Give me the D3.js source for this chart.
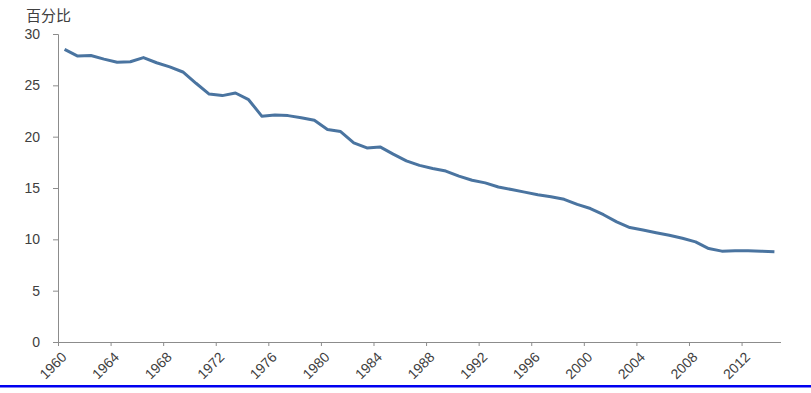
<!DOCTYPE html>
<html>
<head>
<meta charset="utf-8">
<script src="https://cdn.jsdelivr.net/npm/d3@7"></script>
<style>
body { margin: 0; background: #fff; }
text { font-family: "Liberation Sans", Arial, "Noto Sans CJK SC", sans-serif; fill: #404040; }
</style>
</head>
<body>
<svg width="811" height="393"></svg>
<script>
var years = d3.range(1960, 2015);
var values = [28.5, 27.85, 27.9, 27.55, 27.25, 27.3, 27.7, 27.2, 26.8, 26.3,
  25.2, 24.15, 24.0, 24.25, 23.6, 22.0, 22.1, 22.05, 21.85, 21.6,
  20.7, 20.5, 19.4, 18.9, 19.0, 18.3, 17.65, 17.2, 16.9, 16.65,
  16.15, 15.75, 15.5, 15.1, 14.85, 14.6, 14.35, 14.15, 13.9, 13.4,
  13.0, 12.4, 11.7, 11.15, 10.9, 10.65, 10.4, 10.1, 9.75, 9.1,
  8.85, 8.9, 8.9, 8.85, 8.8];
var yTicks = [0, 5, 10, 15, 20, 25, 30];
var xTicks = d3.range(1960, 2013, 4);
var yTitle = '百分比';

var svg = d3.select('svg');

var x = d3.scaleLinear().domain([1960, 2015]).range([58, 781]);
var y = d3.scaleLinear().domain([0, 30]).range([342, 34]);

// y axis
var yAxis = svg.append('g')
  .attr('transform', 'translate(58,0)')
  .call(d3.axisLeft(y).tickValues(yTicks).tickSize(5).tickPadding(13));
yAxis.select('.domain').attr('stroke', '#8c8c8c');
yAxis.selectAll('line').attr('stroke', '#8c8c8c');
yAxis.selectAll('text').attr('font-size', 14).attr('fill', '#404040')
  .style('font-family', '"Liberation Sans", Arial, sans-serif');

// x axis
var xAxis = svg.append('g')
  .attr('transform', 'translate(0,342)')
  .call(d3.axisBottom(x).tickValues(xTicks).tickSize(4).tickFormat(d3.format('d')));
xAxis.select('.domain').attr('stroke', '#8c8c8c').attr('d', 'M58,0.5H781');
xAxis.selectAll('line').attr('stroke', '#8c8c8c');
xAxis.selectAll('text')
  .attr('font-size', 14)
  .attr('fill', '#404040')
  .style('font-family', '"Liberation Sans", Arial, sans-serif')
  .attr('text-anchor', 'end')
  .attr('y', 0)
  .attr('dy', 0)
  .attr('transform', 'translate(9,16) rotate(-45)');

// title
svg.append('text')
  .attr('x', 26)
  .attr('y', 21)
  .attr('font-size', 15)
  .style('font-family', '"Noto Sans CJK SC", sans-serif')
  .attr('fill', '#333')
  .text(yTitle);

// line
var line = d3.line()
  .x(function(d, i) { return x(years[i] + 0.5); })
  .y(function(d) { return y(d); });

svg.append('path')
  .datum(values)
  .attr('fill', 'none')
  .attr('stroke', '#4a74a0')
  .attr('stroke-width', 3)
  .attr('stroke-linejoin', 'round')
  .attr('d', line);

// bottom blue rule
svg.append('rect')
  .attr('x', 0)
  .attr('y', 385)
  .attr('width', 811)
  .attr('height', 2.5)
  .attr('fill', '#0000f0');
</script>
</body>
</html>
